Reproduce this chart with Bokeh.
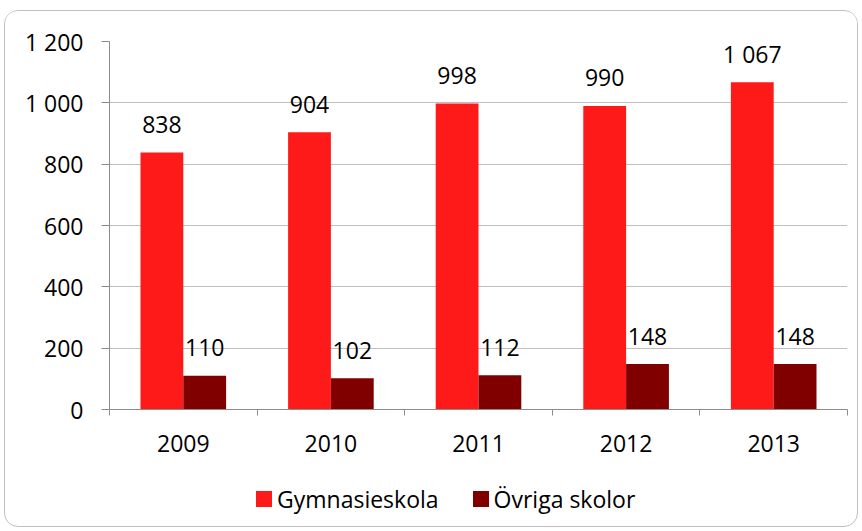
from bokeh.plotting import figure
from bokeh.models import ColumnDataSource, FixedTicker, Range1d, Div
from bokeh.layouts import column
from bokeh.transform import dodge
from bokeh.core.properties import value
from bokeh.embed import file_html
from bokeh.resources import INLINE

years = ["2009", "2010", "2011", "2012", "2013"]
gymnasieskola = [838, 904, 998, 990, 1067]
ovriga_skolor = [110, 102, 112, 148, 148]
y_ticks = [0, 200, 400, 600, 800, 1000, 1200]
series_names = ["Gymnasieskola", "Övriga skolor"]


def fmt(v):
    return f"{v:,}".replace(",", " ")


FONT = value("Open Sans")
FS = "23px"
RED = "#FF1A1A"
DARK = "#800000"
GRAY = "#8C8C8C"
series_colors = [RED, DARK]

xc = [i + 0.5 for i in range(len(years))]
src = ColumnDataSource(dict(
    xc=xc,
    g=gymnasieskola,
    o=ovriga_skolor,
    gl=[fmt(v) for v in gymnasieskola],
    ol=[fmt(v) for v in ovriga_skolor],
))

p = figure(width=852, height=459,
           x_range=Range1d(0, len(years)), y_range=Range1d(0, 1200),
           output_backend="svg", toolbar_location=None,
           min_border_left=104, min_border_right=10, min_border_top=30,
           min_border_bottom=61)
p.outline_line_color = None
p.background_fill_color = "white"
p.border_fill_color = "white"

bw = 0.29
r1 = p.vbar(x=dodge("xc", -bw / 2, range=p.x_range), top="g", width=bw,
            fill_color=RED, line_color=None, source=src)
r2 = p.vbar(x=dodge("xc", bw / 2, range=p.x_range), top="o", width=bw,
            fill_color=DARK, line_color=None, source=src)

p.text(x=dodge("xc", -bw / 2, range=p.x_range), y="g", text="gl", source=src,
       text_align="center", text_baseline="alphabetic", y_offset=-28,
       text_font=FONT, text_font_size=FS, text_color="black")
p.text(x=dodge("xc", bw / 2, range=p.x_range), y="o", text="ol", source=src,
       text_align="center", text_baseline="alphabetic", y_offset=-28,
       text_font=FONT, text_font_size=FS, text_color="black")

# x axis
xa = p.xaxis[0]
xa.ticker = FixedTicker(ticks=xc, minor_ticks=list(range(len(years) + 1)))
xa.major_label_overrides = {x: y for x, y in zip(xc, years)}
xa.major_tick_line_color = None
xa.major_tick_out = 0
xa.major_tick_in = 0
xa.minor_tick_line_color = GRAY
xa.minor_tick_out = 6
xa.minor_tick_in = 0
xa.axis_line_color = GRAY
xa.major_label_standoff = 19
xa.major_label_text_font = "Open Sans"
xa.major_label_text_font_size = FS
xa.major_label_text_color = "black"

# y axis
ya = p.yaxis[0]
ya.ticker = FixedTicker(ticks=y_ticks)
ya.major_label_overrides = {t: fmt(t) for t in y_ticks}
ya.major_tick_line_color = GRAY
ya.major_tick_out = 8
ya.major_tick_in = 0
ya.minor_tick_line_color = None
ya.axis_line_color = GRAY
ya.major_label_standoff = 18
ya.major_label_text_font = "Open Sans"
ya.major_label_text_font_size = FS
ya.major_label_text_color = "black"

p.xgrid.grid_line_color = None
p.ygrid.grid_line_color = "#BFBFBF"
p.ygrid.grid_line_width = 1

# legend (HTML row under the plot)
items = []
for i, (name, col) in enumerate(zip(series_names, series_colors)):
    ml = "0px" if i == 0 else "34px"
    items.append(
        f'<span style="display:inline-block;width:16px;height:16px;'
        f'background:{col};margin-left:{ml};margin-right:5px"></span>'
        f'<span>{name}</span>'
    )
legend_html = (
    '<div style="display:flex;align-items:center;padding-left:251px;'
    'padding-top:14px;font-family:\'Open Sans\';font-size:23px;color:black;'
    'line-height:30px;white-space:nowrap">' + "".join(items) + '</div>'
)
leg = Div(text=legend_html, width=852, height=56, margin=0)

layout = column(p, leg, spacing=0,
                styles={"border": "1px solid #BFBFBF", "border-radius": "14px",
                        "margin-left": "4px", "margin-top": "10px",
                        "background": "white", "overflow": "hidden"})

open("out.html", "w").write(file_html(layout, INLINE))
